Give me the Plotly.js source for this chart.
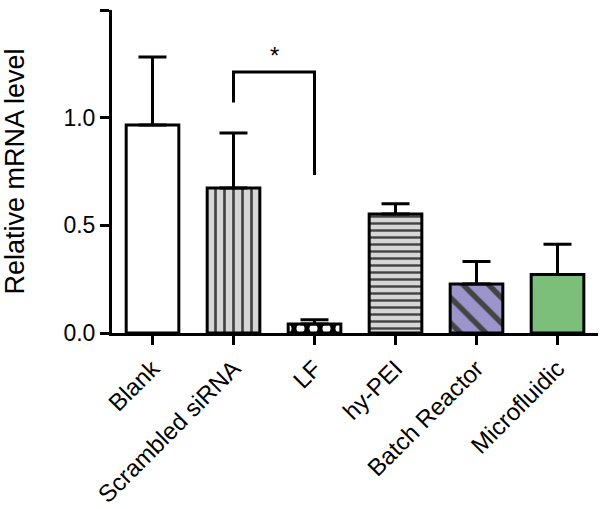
<!DOCTYPE html>
<html>
<head>
<meta charset="utf-8">
<script src="https://cdn.plot.ly/plotly-3.0.1.min.js"></script>
<style>html,body{margin:0;padding:0;background:#fff;}#chart{width:600px;height:509px;}</style>
</head>
<body>
<div id="chart"></div>
<script>
const categories = ["Blank", "Scrambled siRNA", "LF", "hy-PEI", "Batch Reactor", "Microfluidic"];
const values = [0.966, 0.673, 0.042, 0.553, 0.228, 0.272];
const errors = [0.316, 0.256, 0.020, 0.047, 0.104, 0.140];
const fillColors = ["#ffffff", "#d6d6d6", "#000000", "#d6d6d6", "#9c95cc", "#7cbf7b"];
const patternShapes = ["", "|", ".", "-", "\\", ""];
const patternFg = ["#000000", "#000000", "#ffffff", "#000000", "#000000", "#000000"];
const patternSizes = [8, 9, 13, 7, 18, 8];
const patternSolidity = [0.3, 0.3, 0.3, 0.35, 0.3, 0.3];
const bracketX = ["Scrambled siRNA", "Scrambled siRNA", "LF", "LF"];
const bracketY = [1.07, 1.212, 1.212, 0.734];
const sigLabel = "*";

const font = "Arial, 'Liberation Sans', Helvetica, sans-serif";

const bars = {
  type: "bar",
  x: categories,
  y: values,
  width: 0.65,
  marker: {
    color: fillColors,
    line: {color: "#000", width: 3},
    pattern: {
      shape: patternShapes,
      fgcolor: patternFg,
      fgopacity: 1,
      size: patternSizes,
      solidity: patternSolidity,
      fillmode: "overlay"
    }
  },
  error_y: {
    type: "data",
    symmetric: false,
    array: errors,
    arrayminus: errors.map(() => 0),
    color: "#000",
    thickness: 3,
    width: 14
  },
  hoverinfo: "x+y",
  showlegend: false
};

const bracket = {
  type: "scatter",
  mode: "lines",
  x: bracketX,
  y: bracketY,
  line: {color: "#000", width: 3},
  showlegend: false,
  hoverinfo: "skip"
};

const layout = {
  width: 600,
  height: 509,
  margin: {l: 112, r: 2, t: 10, b: 176},
  paper_bgcolor: "#fff",
  plot_bgcolor: "#fff",
  font: {family: font, color: "#000", size: 22},
  bargap: 0.35,
  xaxis: {
    type: "category",
    range: [-0.5, 5.5],
    showline: true,
    linecolor: "#000",
    linewidth: 3,
    ticks: "outside",
    ticklen: 9,
    tickwidth: 3,
    tickcolor: "#000",
    tickangle: -45,
    tickfont: {family: font, size: 24, color: "#000"},
    showgrid: false,
    zeroline: false,
    fixedrange: true
  },
  yaxis: {
    range: [0, 1.5],
    tickvals: [0, 0.5, 1.0, 1.5],
    ticktext: ["0.0", "0.5", "1.0", "1.5"],
    showline: true,
    linecolor: "#000",
    linewidth: 3,
    ticks: "outside",
    ticklen: 9,
    tickwidth: 3,
    tickcolor: "#000",
    tickfont: {family: font, size: 23, color: "#000"},
    showgrid: false,
    zeroline: false,
    title: {text: "Relative mRNA level", font: {family: font, size: 27, color: "#000"}, standoff: 36},
    fixedrange: true
  },
  annotations: [{
    x: 1.5, y: 1.212, xref: "x", yref: "y",
    text: sigLabel, showarrow: false,
    yanchor: "bottom", yshift: 1,
    font: {family: font, size: 24, color: "#000"}
  }]
};

Plotly.newPlot("chart", [bars, bracket], layout, {displayModeBar: false, staticPlot: true});
</script>
</body>
</html>
